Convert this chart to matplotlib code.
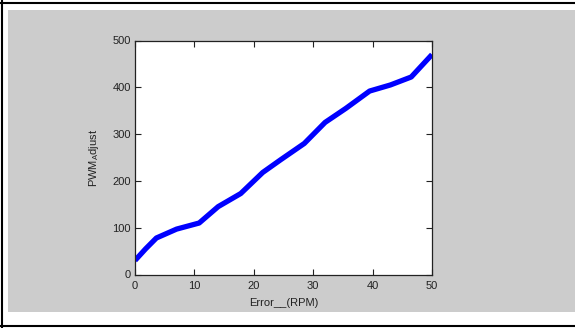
#!/usr/bin/env python

import matplotlib
matplotlib.use("Agg")
import matplotlib.pyplot as plt
from matplotlib.patches import Rectangle
from matplotlib.lines import Line2D

# error (RPM) vs PWM adjust
error_rpm = [0, 1.8, 3.6, 7, 10.8, 14, 17.8, 21.5, 24.5, 28.5, 32, 35.5, 39.5, 43, 46.5, 50]
pwm_adjust = [30, 55, 78, 97, 110, 145, 173, 218, 245, 280, 325, 355, 392, 405, 422, 470]

x_ticks = [0, 10, 20, 30, 40, 50]
y_ticks = [0, 100, 200, 300, 400, 500]

plt.rcParams['font.family'] = ['Liberation Sans', 'DejaVu Sans']

fig = plt.figure(figsize=(5.75, 3.28), dpi=100)
fig.patch.set_facecolor('white')

# gray panel behind the axes, like a matlab figure window
fig.patches.append(Rectangle((8 / 575, 16 / 328), 1 - 8 / 575, 302 / 328,
                             transform=fig.transFigure, facecolor='#cccccc',
                             edgecolor='none', zorder=-2))
# thin black frame of the screenshot
for xs, ys in [([0, 1], [325 / 328] * 2), ([0, 1], [2 / 328] * 2), ([2 / 575] * 2, [0, 1])]:
    fig.lines.append(Line2D(xs, ys, transform=fig.transFigure, color='black',
                            lw=1.5, zorder=-1))

ax = fig.add_axes([135 / 575, 53.5 / 328, 297 / 575, 234 / 328])
ax.set_zorder(1)
ax.set_facecolor('white')
ax.plot(error_rpm, pwm_adjust, color='#0000ff', lw=3.8, solid_capstyle='butt')

ax.set_xlim(0, 50)
ax.set_ylim(0, 500)
ax.set_xticks(x_ticks)
ax.set_yticks(y_ticks)
ax.tick_params(direction='in', length=4, width=0.8, top=True, right=True,
               labelsize=8, colors='#222222')
ax.tick_params(axis='x', pad=5)
ax.tick_params(axis='y', pad=3)
for s in ax.spines.values():
    s.set_linewidth(0.9)
    s.set_color('#222222')

ax.set_xlabel('Error__(RPM)', fontsize=8, color='#222222', labelpad=5)
ax.set_ylabel('PWM$_\\mathregular{A}$djust', fontsize=8, color='#222222', labelpad=8)

fig.savefig('out.png', dpi=100)
